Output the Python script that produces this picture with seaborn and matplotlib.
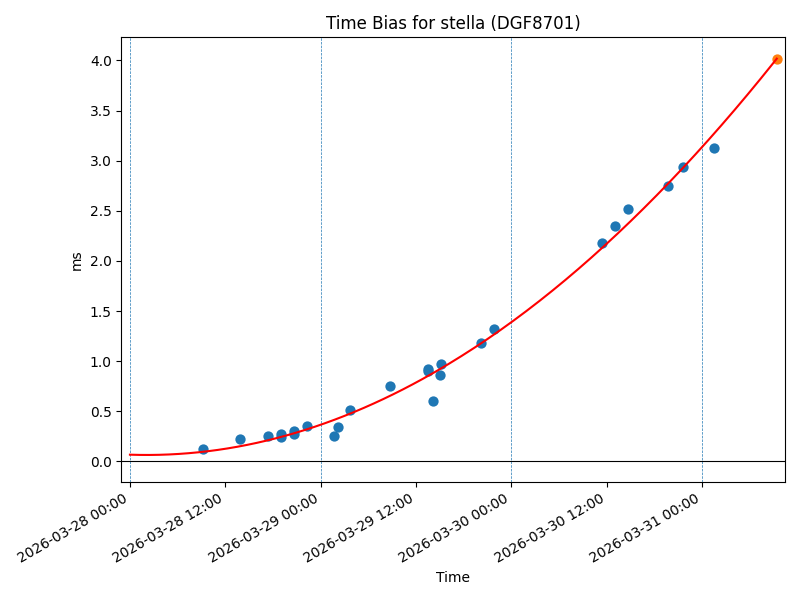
import pandas as pd
import numpy as np
import matplotlib
matplotlib.use('Agg')
import matplotlib.pyplot as plt
import matplotlib.dates as mdates
import seaborn as sns

# measured time bias samples
times = ['2026-03-28 09:11', '2026-03-28 13:51', '2026-03-28 17:23', '2026-03-28 19:01',
         '2026-03-28 19:01', '2026-03-28 20:39', '2026-03-28 20:39', '2026-03-28 22:18',
         '2026-03-29 01:42', '2026-03-29 02:12', '2026-03-29 03:43', '2026-03-29 08:47',
         '2026-03-29 13:29', '2026-03-29 13:29', '2026-03-29 14:11', '2026-03-29 15:04',
         '2026-03-29 15:09', '2026-03-29 20:14', '2026-03-29 21:53', '2026-03-30 11:22',
         '2026-03-30 13:01', '2026-03-30 14:39', '2026-03-30 19:47', '2026-03-30 21:35',
         '2026-03-31 01:35']
bias_ms = [0.12, 0.22, 0.25, 0.27, 0.24, 0.30, 0.27, 0.35, 0.25, 0.34, 0.51, 0.75,
           0.92, 0.90, 0.60, 0.86, 0.97, 1.18, 1.32, 2.18, 2.35, 2.52, 2.75, 2.94, 3.13]

# fitted model (quadratic): a*(h - h0)^2 + c, h in hours
fit_start = '2026-03-28 00:00'
fit_end = '2026-03-31 09:26'
fit_a = 6.28e-4
fit_h0 = 2.1
fit_c = 0.065

day_lines = ['2026-03-28', '2026-03-29', '2026-03-30', '2026-03-31']

df = pd.DataFrame({'time': pd.to_datetime(times), 'bias': bias_ms})

t0 = pd.Timestamp(fit_start)
curve_t = pd.date_range(fit_start, fit_end, periods=200)
hours = (curve_t - t0) / pd.Timedelta(hours=1)
curve = pd.DataFrame({'time': curve_t, 'bias': fit_a * (hours - fit_h0) ** 2 + fit_c})
pred = curve.iloc[[-1]]

fig, ax = plt.subplots(figsize=(8, 6))

for d in day_lines:
    ax.axvline(pd.Timestamp(d), color='C0', linestyle='--', linewidth=0.5)
ax.axhline(0, color='black', linewidth=0.8)

sns.lineplot(data=curve, x='time', y='bias', color='red', ax=ax)
sns.scatterplot(data=df, x='time', y='bias', color='C0', s=55, linewidth=0, ax=ax)
sns.scatterplot(data=pred, x='time', y='bias', color='C1', s=55, linewidth=0, ax=ax)

ax.set_xlim(pd.Timestamp('2026-03-27 22:56'), pd.Timestamp('2026-03-31 10:28'))
ax.set_ylim(-0.2, 4.23)
ax.xaxis.set_major_locator(mdates.HourLocator(byhour=[0, 12]))
ax.xaxis.set_major_formatter(mdates.DateFormatter('%Y-%m-%d %H:%M'))

ax.set_title('Time Bias for stella (DGF8701)')
ax.set_xlabel('Time')
ax.set_ylabel('ms')
fig.autofmt_xdate()
fig.tight_layout()
fig.savefig('out.png', dpi=100)
